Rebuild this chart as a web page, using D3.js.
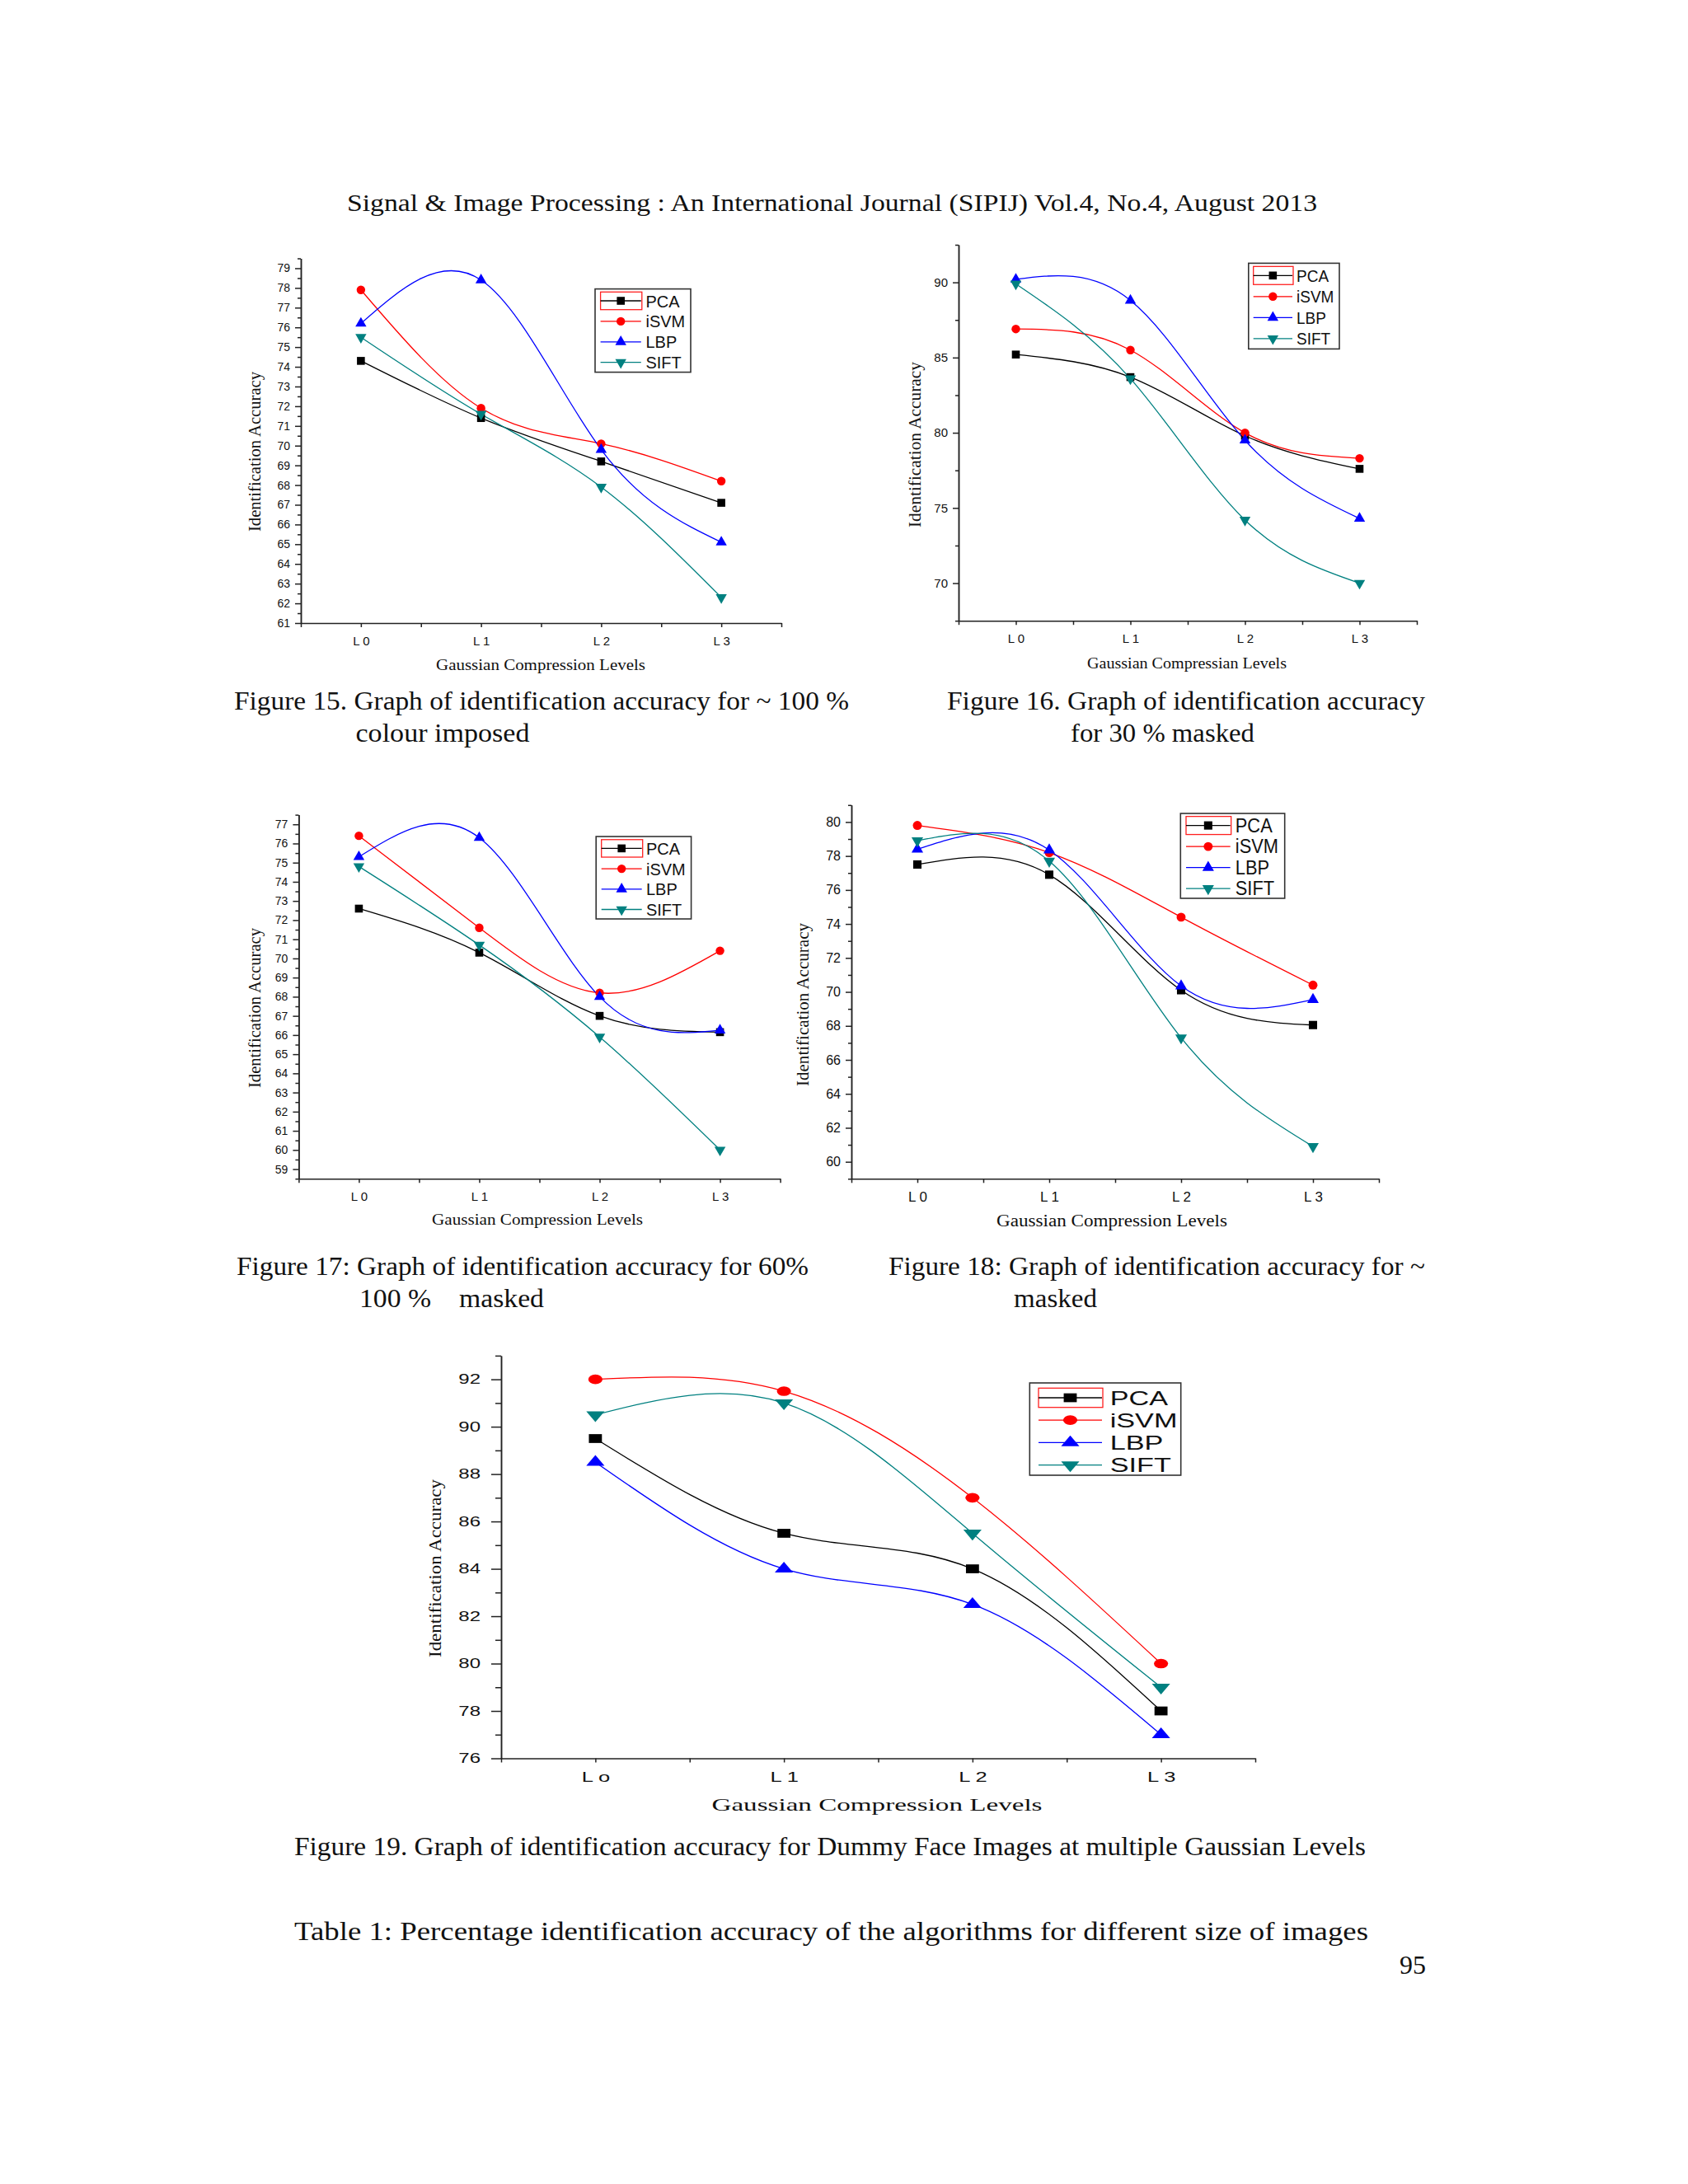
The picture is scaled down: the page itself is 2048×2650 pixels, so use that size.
<!DOCTYPE html>
<html>
<head>
<meta charset="utf-8">
<script src="https://cdn.jsdelivr.net/npm/d3@7"></script>
<style>
  body { margin: 0; background: #fff; }
  text { fill: #111; }
</style>
</head>
<body>
<svg id="page" width="2048" height="2650"></svg>
<script>
/* values, one row per series, in SERIES order */

const SERIES = ["PCA", "iSVM", "LBP", "SIFT"];
const COLORS = ["#000000", "#ff0000", "#0000ff", "#008080"];
const LEVELS = ["L 0", "L 1", "L 2", "L 3"];
const LEVELS_19 = ["L o", "L 1", "L 2", "L 3"];

const FIG15 = [
    [74.3, 71.4, 69.2, 67.1],
    [77.9, 71.9, 70.1, 68.2],
    [76.2, 78.4, 69.8, 65.1],
    [75.5, 71.6, 67.9, 62.3]
];
const FIG16 = [
    [85.2, 83.7, 79.8, 77.6],
    [86.9, 85.5, 80.0, 78.3],
    [90.2, 88.8, 79.5, 74.3],
    [89.9, 83.6, 74.2, 70.0]
];
const FIG17 = [
    [72.6, 70.3, 67.0, 66.15],
    [76.4, 71.6, 68.2, 70.4],
    [75.3, 76.3, 68.0, 66.25],
    [74.8, 70.7, 65.9, 60.0]
];
const FIG18 = [
    [77.5, 76.9, 70.1, 68.05],
    [79.8, 78.2, 74.4, 70.4],
    [78.4, 78.35, 70.35, 69.55],
    [78.9, 77.7, 67.3, 60.9]
];
const FIG19 = [
    [89.5, 85.5, 84.0, 78.0],
    [92.0, 91.5, 87.0, 80.0],
    [88.5, 84.0, 82.5, 77.0],
    [90.5, 91.0, 85.5, 79.0]
];

const FIG15_YTICKS = [61, 62, 63, 64, 65, 66, 67, 68, 69, 70, 71, 72, 73, 74, 75, 76, 77, 78, 79];
const FIG16_YTICKS = [70, 75, 80, 85, 90];
const FIG17_YTICKS = [59, 60, 61, 62, 63, 64, 65, 66, 67, 68, 69, 70, 71, 72, 73, 74, 75, 76, 77];
const FIG18_YTICKS = [60, 62, 64, 66, 68, 70, 72, 74, 76, 78, 80];
const FIG19_YTICKS = [76, 78, 80, 82, 84, 86, 88, 90, 92];

const Y_TITLE = "Identification Accuracy";
const X_TITLE_A = "Gaussian Compression Levels";
const X_TITLE_B = "Gaussian Compressian Levels";

const HEADER = "Signal & Image Processing : An International Journal (SIPIJ) Vol.4, No.4, August 2013";
const CAPTIONS = [
    "Figure 15. Graph of identification accuracy for ~ 100 %",
    "colour imposed",
    "Figure 16. Graph of identification accuracy",
    "for 30 % masked",
    "Figure 17: Graph of identification accuracy for 60%",
    "100 %    masked",
    "Figure 18: Graph of identification accuracy for ~",
    "masked",
    "Figure 19. Graph of identification accuracy for Dummy Face Images at multiple Gaussian Levels",
    "Table 1: Percentage identification accuracy of the algorithms for different size of images",
    "95"
];

/* layout: where each plot frame sits on the page */
//stretch = horizontal widening of the sans text (figure 19 was pasted in stretched)
const CHARTS = [
    {data: FIG15, yDomain: [61, 79.5], yTicks: FIG15_YTICKS, minorStep: 0.5, levels: LEVELS, xTitle: X_TITLE_A,
     frame: {left: 365, right: 948, top: 313.5, bottom: 756},
     tickMajor: 7, tickMinor: 4, tickPad: 6, tickFont: 14, levelFont: 15, stretch: 1, mark: [1, 1],
     yTitle: {x: 316, y: 548, len: 194, size: 20}, xTitleBox: {x: 656, y: 813, len: 254, size: 18},
     legend: {x: 722, y: 350.6, w: 116, h: 101, row0: 365, step: 24.9, l0: 728.6, l1: 777.8, tx: 783.5, size: 21}},
    {data: FIG16, yDomain: [67.5, 92.5], yTicks: FIG16_YTICKS, minorStep: 2.5, levels: LEVELS, xTitle: X_TITLE_B,
     frame: {left: 1163, right: 1719, top: 297, bottom: 753.2},
     tickMajor: 7, tickMinor: 4, tickPad: 6, tickFont: 15, levelFont: 15, stretch: 1, mark: [1, 1],
     yTitle: {x: 1117, y: 539.5, len: 201, size: 20}, xTitleBox: {x: 1440, y: 811, len: 242, size: 18},
     legend: {x: 1514.8, y: 319.4, w: 110.2, h: 104, row0: 334.3, step: 25.5, l0: 1520.7, l1: 1568, tx: 1573, size: 20}},
    {data: FIG17, yDomain: [58.5, 77.5], yTicks: FIG17_YTICKS, minorStep: 0.5, levels: LEVELS, xTitle: X_TITLE_A,
     frame: {left: 362.4, right: 946.6, top: 988.6, bottom: 1430.2},
     tickMajor: 7, tickMinor: 4, tickPad: 6, tickFont: 14, levelFont: 15, stretch: 1, mark: [1, 1],
     yTitle: {x: 316, y: 1223, len: 194, size: 20}, xTitleBox: {x: 652, y: 1486, len: 256, size: 18},
     legend: {x: 723.2, y: 1015, w: 115.4, h: 100, row0: 1029.4, step: 24.7, l0: 729.7, l1: 778.7, tx: 784, size: 21}},
    {data: FIG18, yDomain: [59, 81], yTicks: FIG18_YTICKS, minorStep: 1, levels: LEVELS, xTitle: X_TITLE_A,
     frame: {left: 1033, right: 1673, top: 976.8, bottom: 1430.3},
     tickMajor: 7, tickMinor: 4, tickPad: 6, tickFont: 16, levelFont: 17, stretch: 1, mark: [1.05, 1.05],
     yTitle: {x: 981, y: 1219, len: 198, size: 21}, xTitleBox: {x: 1349, y: 1488, len: 280, size: 20},
     legend: {x: 1432.3, y: 987, w: 126.4, h: 103, row0: 1001.6, step: 25.5, l0: 1439, l1: 1492.7, tx: 1498.8, size: 23}},
    {data: FIG19, yDomain: [76, 93], yTicks: FIG19_YTICKS, minorStep: 1, levels: LEVELS_19, xTitle: X_TITLE_A,
     frame: {left: 608, right: 1523, top: 1644.9, bottom: 2133.5},
     tickMajor: 12, tickMinor: 7, tickPad: 13, tickFont: 16, levelFont: 17, stretch: 1.5, mark: [1.65, 1.12],
     yTitle: {x: 535, y: 1903, len: 216, size: 22}, xTitleBox: {x: 1064, y: 2197, len: 401, size: 21},
     legend: {x: 1249.3, y: 1678, w: 183.4, h: 112, row0: 1696, step: 27.2, l0: 1260, l1: 1337, tx: 1346.7, size: 24}}
];

const CAPTION_POS = [
    {x: 284, y: 861, len: 746}, {x: 431.5, y: 900, len: 211},
    {x: 1149, y: 861, len: 580}, {x: 1299, y: 900, len: 223},
    {x: 287, y: 1547, len: 694}, {x: 436, y: 1586, len: 224},
    {x: 1078, y: 1547, len: 651}, {x: 1230, y: 1586, len: 101},
    {x: 357, y: 2251, len: 1300}, {x: 357, y: 2354, len: 1303},
    {x: 1698, y: 2395, len: 32}
];

const SANS = "'Liberation Sans', Arial, sans-serif";
const SERIF = "'Liberation Serif', 'Times New Roman', serif";
const SYMBOLS = [d3.symbolSquare, d3.symbolCircle, d3.symbolTriangle, d3.symbolTriangle];
const SYMBOL_AREA = [92, 85, 78, 78];
const SYMBOL_ROT = [0, 0, 0, 180];

const svg = d3.select("#page");


//page text: running header and the figure captions
svg.append("text")
    .attr("x", 421).attr("y", 256)
    .attr("textLength", 1177).attr("lengthAdjust", "spacingAndGlyphs")
    .style("font-family", SERIF).style("font-size", "30px")
    .text(HEADER);

svg.selectAll("text.caption")
    .data(CAPTIONS)
    .enter()
    .append("text")
    .attr("class", "caption")
    .attr("x", (d, i) => CAPTION_POS[i].x)
    .attr("y", (d, i) => CAPTION_POS[i].y)
    .attr("textLength", (d, i) => CAPTION_POS[i].len)
    .attr("lengthAdjust", "spacingAndGlyphs")
    .style("font-family", SERIF).style("font-size", "31px")
    .style("white-space", "pre")
    .text((d) => d);


//widen text horizontally by k, keeping it real text
function stretchText(sel, k) {
    if (k === 1) return;
    sel.each(function () {
        const w = this.getComputedTextLength();
        if (w > 0) {
            d3.select(this).attr("textLength", w * k).attr("lengthAdjust", "spacingAndGlyphs");
        }
    });
}


function markerTransform(px, py, k, mark) {
    return "translate(" + px + "," + py + ") scale(" + mark[0] + "," + mark[1] + ") rotate(" + SYMBOL_ROT[k] + ")";
}


function drawChart(c) {
    const g = svg.append("g");
    const f = c.frame;

    const x = d3.scaleLinear().domain([-0.5, 3.5]).range([f.left, f.right]);
    const y = d3.scaleLinear().domain(c.yDomain).range([f.bottom, f.top]);

    //minor ticks on the y axis, no labels
    const minor = d3.range(c.yDomain[0], c.yDomain[1] + 1e-6, c.minorStep)
        .filter((v) => !c.yTicks.some((t) => Math.abs(t - v) < 1e-6));

    g.append("g")
        .attr("transform", "translate(" + f.left + ",0)")
        .call(d3.axisLeft(y).tickValues(minor).tickSize(c.tickMinor).tickSizeOuter(0).tickFormat(""));

    const yAxis = g.append("g")
        .attr("transform", "translate(" + f.left + ",0)")
        .call(d3.axisLeft(y).tickValues(c.yTicks).tickSize(c.tickMajor).tickSizeOuter(0)
            .tickPadding(c.tickPad).tickFormat(d3.format("d")));

    const xAxis = g.append("g")
        .attr("transform", "translate(0," + f.bottom + ")")
        .call(d3.axisBottom(x).tickValues(d3.range(-0.5, 3.51, 0.5)).tickSize(5).tickSizeOuter(0)
            .tickPadding(11).tickFormat((d) => Number.isInteger(d) ? c.levels[d] : ""));

    g.selectAll(".domain, .tick line").attr("stroke", "#222").attr("stroke-width", 1.5);

    yAxis.selectAll("text")
        .style("font-family", SANS).style("font-size", c.tickFont + "px")
        .attr("fill", "#222")
        .call(stretchText, c.stretch);
    xAxis.selectAll("text")
        .style("font-family", SANS).style("font-size", c.levelFont + "px")
        .attr("fill", "#222")
        .call(stretchText, c.stretch);

    //smoothed series lines
    const line = d3.line()
        .x((d, i) => x(i))
        .y((d) => y(d))
        .curve(d3.curveNatural);

    c.data.forEach((vals, k) => {
        g.append("path")
            .datum(vals)
            .attr("d", line)
            .attr("fill", "none")
            .attr("stroke", COLORS[k])
            .attr("stroke-width", 1.3);
    });

    c.data.forEach((vals, k) => {
        g.selectAll(null)
            .data(vals)
            .enter()
            .append("path")
            .attr("d", d3.symbol().type(SYMBOLS[k]).size(SYMBOL_AREA[k]))
            .attr("fill", COLORS[k])
            .attr("transform", (d, i) => markerTransform(x(i), y(d), k, c.mark));
    });

    //axis titles
    g.append("text")
        .attr("transform", "translate(" + c.yTitle.x + "," + c.yTitle.y + ") rotate(-90)")
        .attr("text-anchor", "middle")
        .attr("textLength", c.yTitle.len).attr("lengthAdjust", "spacingAndGlyphs")
        .style("font-family", SERIF).style("font-size", c.yTitle.size + "px")
        .text(Y_TITLE);

    g.append("text")
        .attr("x", c.xTitleBox.x).attr("y", c.xTitleBox.y)
        .attr("text-anchor", "middle")
        .attr("textLength", c.xTitleBox.len).attr("lengthAdjust", "spacingAndGlyphs")
        .style("font-family", SERIF).style("font-size", c.xTitleBox.size + "px")
        .text(c.xTitle);

    //legend box
    const L = c.legend;
    const lg = g.append("g");
    lg.append("rect")
        .attr("x", L.x).attr("y", L.y).attr("width", L.w).attr("height", L.h)
        .attr("fill", "#fff").attr("stroke", "#333").attr("stroke-width", 1.6);

    //the red selection frame Origin left round the first sample
    lg.append("rect")
        .attr("x", L.l0).attr("y", L.row0 - L.step * 0.43)
        .attr("width", L.l1 - L.l0 + 1).attr("height", L.step * 0.86)
        .attr("fill", "none").attr("stroke", "#ff2020").attr("stroke-width", 1.3);

    const rows = lg.selectAll("g.row")
        .data(SERIES)
        .enter()
        .append("g")
        .attr("class", "row")
        .attr("transform", (d, i) => "translate(0," + (L.row0 + i * L.step) + ")");

    rows.append("line")
        .attr("x1", L.l0).attr("x2", L.l1)
        .attr("stroke", (d, i) => COLORS[i]).attr("stroke-width", 1.3);

    rows.append("path")
        .attr("d", (d, i) => d3.symbol().type(SYMBOLS[i]).size(SYMBOL_AREA[i])())
        .attr("fill", (d, i) => COLORS[i])
        .attr("transform", (d, i) => markerTransform((L.l0 + L.l1) / 2, 0, i, c.mark));

    rows.append("text")
        .attr("x", L.tx).attr("dy", "0.36em")
        .style("font-family", SANS).style("font-size", L.size + "px")
        .text((d) => d)
        .call(stretchText, c.stretch * 0.95);
}

CHARTS.forEach(drawChart);
</script>
</body>
</html>
